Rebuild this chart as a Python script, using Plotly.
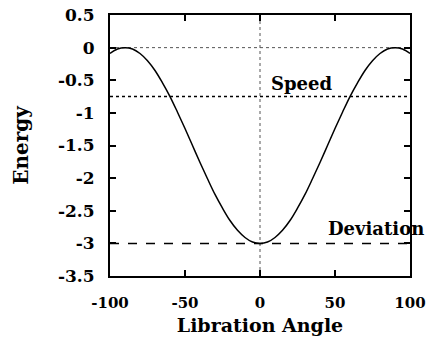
import plotly.graph_objects as go

# Libration angle (degrees) and potential energy along the curve
angles = [-100, -95, -90, -85, -80, -75, -70, -65, -60, -55, -50, -45, -40, -35, -30, -25, -20, -15, -10, -5,
          0, 5, 10, 15, 20, 25, 30, 35, 40, 45, 50, 55, 60, 65, 70, 75, 80, 85, 90, 95, 100]
energy = [-0.09, -0.02, 0.00, -0.02, -0.09, -0.20, -0.35, -0.54, -0.75, -0.99, -1.24, -1.50, -1.76, -2.01,
          -2.25, -2.46, -2.65, -2.80, -2.91, -2.98,
          -3.00, -2.98, -2.91, -2.80, -2.65, -2.46, -2.25, -2.01, -1.76, -1.50, -1.24, -0.99, -0.75, -0.54,
          -0.35, -0.20, -0.09, -0.02, 0.00, -0.02, -0.09]

speed_level = -0.75
deviation_level = -3.0
x_ticks = [-100, -50, 0, 50, 100]
y_ticks = [0.5, 0, -0.5, -1, -1.5, -2, -2.5, -3, -3.5]

FONT = "DejaVu Serif"

fig = go.Figure()

# reference lines
fig.add_trace(go.Scatter(x=[-100, 100], y=[0, 0], mode="lines",
                         line=dict(color="#555", width=1, dash="dot"), hoverinfo="skip"))
fig.add_trace(go.Scatter(x=[0, 0], y=[0.5, -3.5], mode="lines",
                         line=dict(color="#555", width=1, dash="dot"), hoverinfo="skip"))
fig.add_trace(go.Scatter(x=[-100, 100], y=[speed_level, speed_level], mode="lines",
                         line=dict(color="black", width=1.5, dash="dot"), hoverinfo="skip"))
fig.add_trace(go.Scatter(x=[-100, 100], y=[deviation_level, deviation_level], mode="lines",
                         line=dict(color="black", width=1.5, dash="dash"), hoverinfo="skip"))

# energy curve
fig.add_trace(go.Scatter(x=angles, y=energy, mode="lines",
                         line=dict(color="black", width=1.5, shape="spline"), hoverinfo="skip"))

fig.add_annotation(x=6.0, y=speed_level, yshift=1, text="<b>Speed</b>", showarrow=False,
                   xanchor="left", yanchor="bottom", font=dict(family=FONT, size=18, color="black"))
fig.add_annotation(x=44, y=deviation_level, yshift=2, text="<b>Deviation</b>", showarrow=False,
                   xanchor="left", yanchor="bottom", font=dict(family=FONT, size=18, color="black"))

axis_common = dict(showgrid=False, zeroline=False, showline=True, linecolor="black", linewidth=2,
                   mirror="ticks", ticks="inside", ticklen=6, tickwidth=1.5, tickcolor="black",
                   ticklabeloverflow="allow", automargin=False)

fig.update_xaxes(range=[-100, 100], tickvals=x_ticks, ticktext=[f"<b>{v}</b>" for v in x_ticks],
                 tickfont=dict(family=FONT, size=15, color="black"),
                 title=dict(text="<b>Libration Angle</b>", font=dict(family=FONT, size=19, color="black"),
                            standoff=8),
                 ticklabelstandoff=12, **axis_common)
fig.update_yaxes(range=[-3.5, 0.5], tickvals=y_ticks, ticktext=[f"<b>{v:g}</b>" for v in y_ticks],
                 tickfont=dict(family=FONT, size=17, color="black"),
                 title=dict(text="<b>Energy</b>", font=dict(family=FONT, size=20, color="black"),
                            standoff=24),
                 ticklabelstandoff=10, **axis_common)

fig.update_layout(width=426, height=339, margin=dict(l=110, r=16, t=15, b=63),
                  plot_bgcolor="white", paper_bgcolor="white", showlegend=False)

fig.write_html("out.html")
